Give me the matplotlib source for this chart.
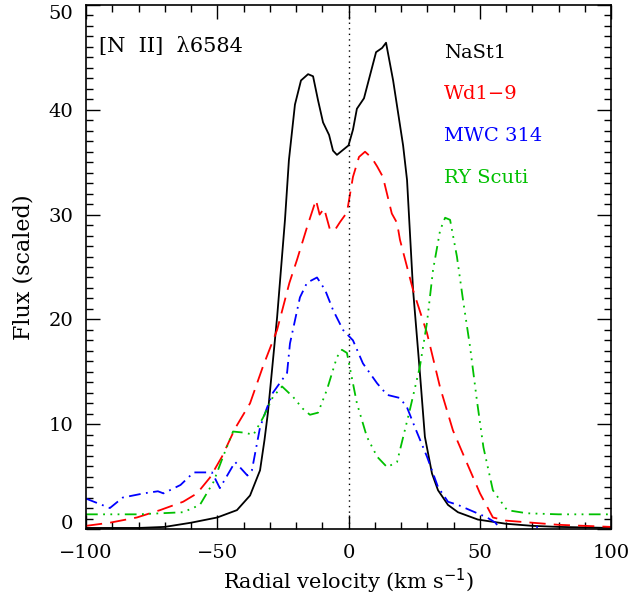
import numpy as np
import matplotlib
matplotlib.use('Agg')
import matplotlib.pyplot as plt
import matplotlib.transforms as mtransforms
from matplotlib.ticker import MultipleLocator

plt.rcParams['font.family'] = ['DejaVu Serif']

# NaSt1 (solid black)
nast1_v = [-100, -80, -70, -60, -50, -42.5, -37.5, -33.7, -32, -30.7, -27.2, -24.2, -22.7,
           -20.4, -18.1, -15.4, -13.5, -11.6, -9.7, -7.4, -5.9, -4.4, 0, 1.7, 3.2, 5.9,
           8.2, 10.5, 12.8, 14.3, 17.0, 20.8, 22.3, 24.6, 27.2, 29.1, 31.8, 34.1, 37.9,
           41.7, 49.3, 60, 70, 80, 100]
nast1_f = [0.1, 0.1, 0.2, 0.6, 1.1, 1.8, 3.2, 5.6, 8.5, 11.1, 20.2, 29.5, 35.2,
           40.5, 42.8, 43.4, 43.2, 40.9, 38.8, 37.6, 36.1, 35.7, 36.6, 38.1, 40.1, 41.1,
           43.3, 45.5, 45.9, 46.4, 42.8, 36.6, 33.3, 22.8, 14.9, 8.8, 5.3, 3.7, 2.3,
           1.6, 0.9, 0.5, 0.3, 0.2, 0.1]

# Wd1-9 (red dashed)
wd19_v = [-100, -90.9, -80.6, -71.8, -63, -57.7, -52.8, -48.2, -43.2, -37.5, -32.6,
          -27.2, -22.5, -19.6, -15.8, -12.4, -11.0, -9.3, -7.0, -5.0, -3.2, -0.6, 1.7,
          4.0, 6.3, 8.9, 10.9, 13.1, 16.5, 18.5, 19.6, 24.6, 29.9, 34.9, 39.8, 45.1,
          50.1, 55.0, 60, 70, 80, 100]
wd19_f = [0.3, 0.6, 1.1, 1.8, 2.6, 3.4, 4.9, 6.9, 9.6, 12.0, 15.5,
          19.0, 23.5, 25.7, 28.8, 31.4, 30.0, 30.6, 28.5, 28.6, 29.3, 30.2, 33.6,
          35.5, 36.0, 35.4, 34.6, 33.6, 30.1, 29.2, 27.6, 22.8, 18.7, 13.5, 9.4, 6.3,
          3.4, 1.1, 0.8, 0.6, 0.4, 0.2]

# MWC 314 (blue dash-dot)
mwc_v = [-100, -90.9, -86, -78, -72.6, -70.5, -64, -59, -52, -49, -43.2, -38.5, -36.8,
         -33.7, -31, -28.8, -23.4, -22.3, -18.5, -15.8, -12, -8.9, -5.9, -2.1, 1.7,
         5.5, 10.9, 14.7, 19.6, 22.3, 25.3, 29.9, 34.1, 37.9, 41.7, 46.3, 52.8, 56,
         59, 62, 70, 72, 74, 80, 100]
mwc_f = [2.9, 2.0, 3.0, 3.4, 3.6, 3.4, 4.2, 5.4, 5.4, 3.9, 6.4, 5.1, 5.6,
         9.7, 11.6, 13.0, 14.9, 17.7, 22.1, 23.5, 24.0, 22.8, 20.9, 19.0, 18.0,
         15.8, 13.9, 12.8, 12.5, 11.6, 9.7, 6.9, 4.0, 2.6, 2.3, 1.8, 1.1, 0.6,
         -0.5, -1.0, -1.0, 0.3, -1.0, -1.0, -1.0]

# RY Scuti (green dash-dot-dot-dot)
ry_v = [-100, -80, -63, -56.6, -51.4, -47.8, -44, -40, -36.2, -32.6, -28.8, -25.3,
        -21.1, -17.5, -14.7, -11.6, -8.2, -4.4, -2.5, -0.6, 3.2, 7, 10.9, 14.7, 18.5,
        23.4, 27.2, 29.9, 32.2, 34.9, 36.8, 38.7, 41.3, 43.6, 46.3, 48.9, 51.4, 55,
        60.4, 68, 80, 100]
ry_f = [1.4, 1.4, 1.6, 2.3, 4.5, 6.9, 9.3, 9.2, 9.0, 10.6, 12.6, 13.6,
        12.6, 11.5, 10.9, 11.1, 13.3, 16.4, 17.1, 16.8, 12.0, 8.8, 6.9, 5.9, 6.4,
        11.4, 15.5, 19.7, 24.7, 28.5, 29.7, 29.5, 26.0, 21.9, 17.4, 12.3, 7.8, 3.7,
        1.8, 1.5, 1.4, 1.4]

names = ['NaSt1', 'Wd1\u22129', 'MWC 314', 'RY Scuti']
colors = ['black', '#ff0000', '#0000ff', '#00c000']

fig = plt.figure(figsize=(6.41, 5.98), dpi=100)
ax = fig.add_axes([86/641, 69/598, 525/641, 524/598])

lw = 1.3
ax.plot(nast1_v, nast1_f, color=colors[0], lw=lw, ls='-')
ax.plot(wd19_v, wd19_f, color=colors[1], lw=lw, ls=(0, (9, 4.5)))
ax.plot(mwc_v, mwc_f, color=colors[2], lw=lw, ls=(0, (6.5, 3, 1, 3)))
ax.plot(ry_v, ry_f, color=colors[3], lw=lw, ls=(0, (6.5, 3, 1, 3, 1, 3, 1, 3)))
ax.axvline(0, color='black', lw=1, ls=(0, (1, 3)))

ax.set_xlim(-100, 100)
ax.set_ylim(0, 50)
ax.xaxis.set_minor_locator(MultipleLocator(10))
ax.yaxis.set_minor_locator(MultipleLocator(1))
ax.tick_params(which='both', direction='in', top=True, right=True, labelsize=14, width=1)
ax.tick_params(which='major', length=10)
ax.tick_params(axis='x', which='major', pad=11)
ax.tick_params(axis='y', which='major', pad=9)
ax.tick_params(which='minor', length=5)
ax.set_xticks([-100, -50, 0, 50, 100])
ax.set_xticklabels(['\u2212100', '\u221250', '0', '50', '100'])
ax.set_yticks([0, 10, 20, 30, 40, 50])
ax.set_yticklabels(['0', '10', '20', '30', '40', '50'])
yl = ax.get_yticklabels()
yl[0].set_transform(yl[0].get_transform() +
                    mtransforms.ScaledTranslation(0, 7/100, fig.dpi_scale_trans))
yl[-1].set_transform(yl[-1].get_transform() +
                     mtransforms.ScaledTranslation(0, -7/100, fig.dpi_scale_trans))
for s in ax.spines.values():
    s.set_linewidth(1.2)

ax.set_xlabel('Radial velocity (km s$^{-1}$)', fontsize=15, labelpad=3)
ax.set_ylabel('Flux (scaled)', fontsize=16, labelpad=10)

ax.text(-95, 46.0, '[N  II]  \u03bb6584', fontsize=15, va='center', ha='left')
ys = [45.4, 41.5, 37.5, 33.5]
for n, c, yy in zip(names, colors, ys):
    ax.text(36.5, yy, n, color=c, fontsize=14, va='center', ha='left')

fig.savefig('out.png', dpi=100)
